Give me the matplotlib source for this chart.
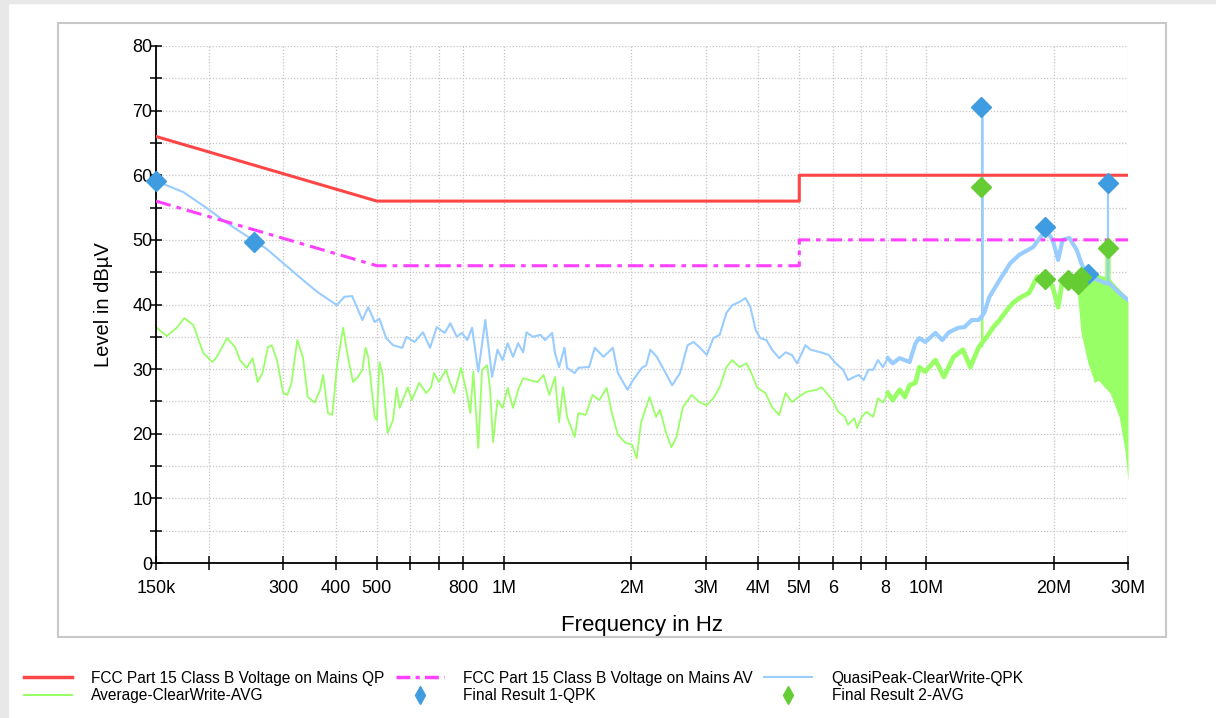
import matplotlib
matplotlib.use('Agg')
import matplotlib.pyplot as plt
from matplotlib.lines import Line2D
from matplotlib.patches import Rectangle
import numpy as np

plt.rcParams['font.family'] = ['Liberation Sans', 'DejaVu Sans']

# limit lines (MHz, dBuV)
qp_f = [0.15, 0.5, 5.0, 5.0, 30.0]
qp_db = [66, 56, 56, 60, 60]
av_f = [0.15, 0.5, 5.0, 5.0, 30.0]
av_db = [56, 46, 46, 50, 50]

# QuasiPeak-ClearWrite trace
qpk_f = [0.150, 0.174, 0.198, 0.221, 0.258, 0.273, 0.300, 0.341, 0.364, 0.402,
         0.419, 0.437, 0.449, 0.462, 0.477, 0.494, 0.507, 0.526, 0.546, 0.574,
         0.588, 0.614, 0.643, 0.668, 0.693, 0.724, 0.746, 0.773, 0.795, 0.818,
         0.840, 0.869, 0.903, 0.937, 0.965, 0.992, 1.02, 1.05, 1.08, 1.11,
         1.13, 1.17, 1.22, 1.25, 1.30, 1.32, 1.35, 1.39, 1.41, 1.47,
         1.50, 1.56, 1.59, 1.64, 1.72, 1.81, 1.86, 1.96, 2.02, 2.12,
         2.17, 2.22, 2.30, 2.39, 2.50, 2.61, 2.72, 2.81, 2.91, 3.02,
         3.13, 3.24, 3.36, 3.47, 3.61, 3.73, 3.83, 3.94, 4.04, 4.18,
         4.31, 4.48, 4.64, 4.80, 4.94, 5.17, 5.32, 5.62, 5.87, 6.10,
         6.35, 6.52, 6.75, 6.92, 7.10, 7.29, 7.48, 7.68, 7.89, 8.10,
         8.32, 8.64, 9.12, 9.42, 9.62, 9.93, 10.5, 10.9, 11.3, 11.9,
         12.3, 12.8, 13.3, 13.56, 13.56, 13.56, 13.7, 14.1, 14.9, 15.8,
         16.6, 17.9, 18.6, 19.1, 19.3, 19.9, 20.5, 21.0, 21.8, 22.7,
         23.2, 23.8, 24.6, 25.5, 26.6, 26.9, 26.9, 26.9, 27.1, 28.6,
         30.0]
qpk_db = [59.1, 57.4, 54.9, 52.6, 49.7, 48.7, 46.4, 43.3, 41.8, 39.9,
          41.2, 41.3, 39.5, 37.6, 39.6, 37.3, 37.8, 34.8, 33.7, 33.3,
          35.0, 34.2, 35.7, 33.3, 36.5, 35.6, 37.1, 35.0, 35.6, 34.5,
          36.4, 29.6, 37.6, 28.8, 33.0, 31.4, 34.0, 31.9, 34.0, 32.6,
          35.7, 35.0, 35.3, 34.5, 35.6, 32.5, 30.3, 33.3, 30.2, 29.4,
          30.2, 30.3, 30.3, 33.3, 31.9, 33.3, 29.4, 26.8, 28.3, 30.2,
          30.6, 33.0, 31.9, 29.9, 27.5, 29.4, 33.7, 34.2, 33.3, 32.2,
          34.8, 35.3, 38.7, 39.9, 40.4, 41.0, 39.6, 36.1, 34.8, 34.5,
          33.0, 31.7, 32.6, 32.2, 30.9, 33.7, 33.0, 32.6, 32.2, 30.9,
          29.9, 28.3, 28.8, 29.1, 28.3, 29.9, 29.9, 31.4, 30.3, 31.7,
          30.9, 31.7, 31.1, 34.0, 34.8, 34.2, 35.6, 34.5, 35.7, 36.4,
          36.5, 37.6, 37.6, 37.8, 70.6, 38.5, 38.7, 41.2, 43.8, 46.4,
          47.7, 48.9, 50.4, 51.3, 51.2, 50.0, 46.9, 50.0, 50.3, 48.4,
          46.6, 44.9, 44.1, 43.8, 43.3, 43.3, 58.8, 43.3, 43.3, 41.8,
          40.7]

# Average-ClearWrite trace
avg_f = [0.150, 0.159, 0.168, 0.175, 0.184, 0.194, 0.204, 0.209, 0.221, 0.231,
         0.237, 0.246, 0.254, 0.261, 0.268, 0.276, 0.282, 0.290, 0.300, 0.307,
         0.314, 0.324, 0.334, 0.343, 0.356, 0.367, 0.373, 0.383, 0.392, 0.403,
         0.416, 0.427, 0.439, 0.451, 0.462, 0.470, 0.477, 0.494, 0.500, 0.507,
         0.516, 0.530, 0.546, 0.557, 0.566, 0.592, 0.605, 0.630, 0.654, 0.672,
         0.683, 0.701, 0.729, 0.741, 0.762, 0.791, 0.818, 0.832, 0.846, 0.869,
         0.887, 0.912, 0.927, 0.942, 0.965, 0.992, 1.02, 1.05, 1.08, 1.11,
         1.15, 1.20, 1.24, 1.28, 1.32, 1.35, 1.38, 1.41, 1.47, 1.50,
         1.56, 1.62, 1.68, 1.75, 1.80, 1.86, 1.94, 2.01, 2.06, 2.11,
         2.21, 2.29, 2.34, 2.42, 2.49, 2.56, 2.65, 2.78, 2.90, 3.02,
         3.13, 3.24, 3.36, 3.47, 3.61, 3.75, 3.85, 3.98, 4.16, 4.31,
         4.48, 4.64, 4.80, 4.98, 5.20, 5.50, 5.65, 5.80, 5.99, 6.18,
         6.41, 6.52, 6.75, 6.85, 7.03, 7.21, 7.48, 7.68, 7.89, 8.10,
         8.32, 8.64, 8.89, 9.12, 9.42, 9.62, 9.93, 10.5, 11.0, 11.6,
         12.2, 12.7, 13.3, 13.56, 13.56, 13.56, 13.9, 14.4, 14.9, 15.5,
         16.0, 16.6, 17.5, 18.3, 19.3, 19.9, 20.5, 21.0, 22.0, 22.7,
         23.0, 24.0, 25.0, 26.0, 26.9, 26.9, 26.9, 28.0, 29.0, 30.0]
avg_db = [36.5, 35.1, 36.4, 37.9, 36.8, 32.5, 31.1, 31.9, 34.8, 33.4,
          31.4, 30.2, 31.7, 28.0, 29.4, 33.4, 33.7, 31.4, 26.3, 26.0,
          27.9, 34.5, 31.9, 25.7, 24.8, 26.8, 29.1, 23.2, 22.9, 30.9,
          36.4, 31.9, 28.0, 28.8, 29.9, 33.3, 31.9, 22.6, 22.1, 31.1,
          29.1, 20.1, 22.1, 27.1, 24.0, 27.2, 25.2, 27.9, 26.3, 27.2,
          29.4, 28.0, 29.9, 28.3, 26.3, 30.2, 26.0, 23.2, 29.6, 17.8,
          29.9, 30.6, 26.8, 18.7, 25.2, 24.0, 27.1, 24.0, 26.8, 28.6,
          28.3, 28.0, 29.1, 26.0, 28.8, 21.8, 27.2, 22.6, 19.5, 23.2,
          22.9, 26.0, 25.2, 27.1, 23.2, 19.8, 18.6, 18.3, 16.2, 21.7,
          25.7, 22.6, 23.7, 20.1, 17.9, 19.5, 24.1, 26.0, 24.9, 24.4,
          25.5, 27.2, 30.3, 31.4, 30.3, 30.9, 29.4, 27.1, 26.3, 24.1,
          22.9, 26.3, 24.9, 25.7, 26.5, 26.8, 27.2, 26.3, 25.2, 23.4,
          22.6, 21.4, 22.4, 20.9, 22.6, 23.4, 22.6, 25.5, 24.8, 26.3,
          25.2, 26.8, 25.7, 27.5, 27.9, 30.3, 29.6, 31.4, 28.8, 31.9,
          33.0, 30.3, 33.4, 33.5, 58.2, 34.0, 35.0, 36.5, 37.6, 39.1,
          40.2, 41.0, 41.8, 44.3, 44.1, 42.7, 39.6, 43.8, 44.3, 42.7,
          44.8, 45.0, 44.5, 44.0, 43.8, 48.8, 43.8, 42.5, 41.5, 40.5]

# dense AVG band above ~23 MHz (lower and upper envelope)
band_f = [22.7, 23.2, 24.1, 25.0, 25.5, 27.2, 28.6, 29.5, 30.0]
band_lo = [42.7, 35.8, 31.0, 27.9, 28.3, 26.3, 22.6, 17.5, 12.7]
band_hi = [42.7, 45.0, 45.0, 44.5, 44.3, 43.5, 42.0, 41.2, 40.5]

# final results
fr1_f = [0.150, 0.256, 13.47, 19.1, 24.1, 26.9]
fr1_db = [59.1, 49.7, 70.6, 52.0, 44.7, 58.8]
fr2_f = [13.47, 19.1, 21.6, 22.8, 23.2, 26.9]
fr2_db = [58.2, 43.9, 43.8, 43.2, 44.2, 48.8]

xticks = [0.15, 0.2, 0.3, 0.4, 0.5, 0.6, 0.7, 0.8, 1, 2, 3, 4, 5, 6, 7, 8, 10, 20, 30]
xlabels = ['150k', '', '300', '400', '500', '', '', '800', '1M', '2M', '3M', '4M',
           '5M', '6', '', '8', '10M', '20M', '30M']

red = '#ff4646'
mag = '#ff40ff'
blue = '#99ccff'
green = '#99ff66'
blue_m = '#409ce0'
green_m = '#66cc33'

fig = plt.figure(figsize=(12.16, 7.18), dpi=100)
fig.patches.append(Rectangle((0, 0), 8 / 1216, 1, transform=fig.transFigure,
                             color='#e8e8e8', zorder=0))
fig.patches.append(Rectangle((0, 1 - 3 / 718), 1, 3 / 718, transform=fig.transFigure,
                             color='#e8e8e8', zorder=0))
fig.patches.append(Rectangle((58 / 1216, 1 - 637 / 718), 1108 / 1216, 614 / 718,
                             transform=fig.transFigure, fill=False,
                             edgecolor='#c8c8c8', lw=1.5, zorder=0))

ax = fig.add_axes([156 / 1216, 1 - 563 / 718, 972 / 1216, 517 / 718])
ax.set_xscale('log')

qpk_f_a = np.array(qpk_f)
qpk_db_a = np.array(qpk_db)
avg_f_a = np.array(avg_f)
avg_db_a = np.array(avg_db)

ax.fill_between(band_f, band_lo, band_hi, color=green, lw=0, zorder=2)
ax.plot(avg_f, avg_db, color=green, lw=1.3, zorder=2)
hi = (avg_f_a >= 8.0) & (avg_f_a != 13.56)
ax.plot(avg_f_a[hi], avg_db_a[hi], color=green, lw=3.4, zorder=2)

ax.plot(qpk_f, qpk_db, color=blue, lw=1.5, zorder=3)
hi = (qpk_f_a >= 8.0) & (qpk_f_a != 13.56) & (qpk_f_a != 26.9)
ax.plot(qpk_f_a[hi], qpk_db_a[hi], color=blue, lw=3.0, zorder=3)

ax.plot(qp_f, qp_db, color=red, lw=2.2, zorder=4)
ax.plot(av_f, av_db, color=mag, lw=2.2, dashes=(5, 2, 1.5, 2), zorder=4)

ax.plot(fr1_f, fr1_db, 'D', color=blue_m, ms=10, mec=blue_m, zorder=5, clip_on=False)
ax.plot(fr2_f, fr2_db, 'D', color=green_m, ms=10, mec=green_m, zorder=5, clip_on=False)

ax.set_xlim(0.15, 30)
ax.set_ylim(0, 80)
ax.set_xticks(xticks)
ax.set_xticklabels(xlabels)
ax.xaxis.set_minor_locator(matplotlib.ticker.NullLocator())
ax.set_yticks(range(0, 81, 10))
ax.set_yticks(range(5, 80, 10), minor=True)

ax.grid(True, which='major', color='#c4c4c4', ls=(0, (1, 1.5)), lw=0.9)
ax.grid(True, which='minor', axis='y', color='#c4c4c4', ls=(0, (1, 1.5)), lw=0.9)

for s in ['top', 'right']:
    ax.spines[s].set_visible(False)
ax.spines['left'].set_linewidth(1.3)
ax.spines['bottom'].set_linewidth(1.3)

ax.tick_params(axis='x', which='major', direction='inout', length=10, width=1.1,
               labelsize=13, pad=7)
ax.tick_params(axis='y', which='both', direction='inout', length=9, width=1.1,
               labelsize=13, pad=-2)

ax.set_xlabel('Frequency in Hz', fontsize=16, labelpad=13)
ax.set_ylabel('Level in dBµV', fontsize=14.5, labelpad=14)

handles = [
    Line2D([], [], color=red, lw=2.5),
    Line2D([], [], color=green, lw=1.5),
    Line2D([], [], color=mag, lw=2.5, dashes=(4, 1.5, 1.2, 1.5)),
    Line2D([], [], ls='none', marker='d', color=blue_m, ms=9),
    Line2D([], [], color=blue, lw=1.5),
    Line2D([], [], ls='none', marker='d', color=green_m, ms=9),
]
labels = ['FCC Part 15 Class B Voltage on Mains QP', 'Average-ClearWrite-AVG',
          'FCC Part 15 Class B Voltage on Mains AV', 'Final Result 1-QPK',
          'QuasiPeak-ClearWrite-QPK', 'Final Result 2-AVG']
fig.legend(handles, labels, ncol=3, loc='upper left',
           bbox_to_anchor=(16 / 1216, 1 - 663 / 718), frameon=False, fontsize=11.2,
           handlelength=3.1, handletextpad=1.25, columnspacing=0.7, labelspacing=0.15,
           borderpad=0)

fig.savefig('out.png', dpi=100)
